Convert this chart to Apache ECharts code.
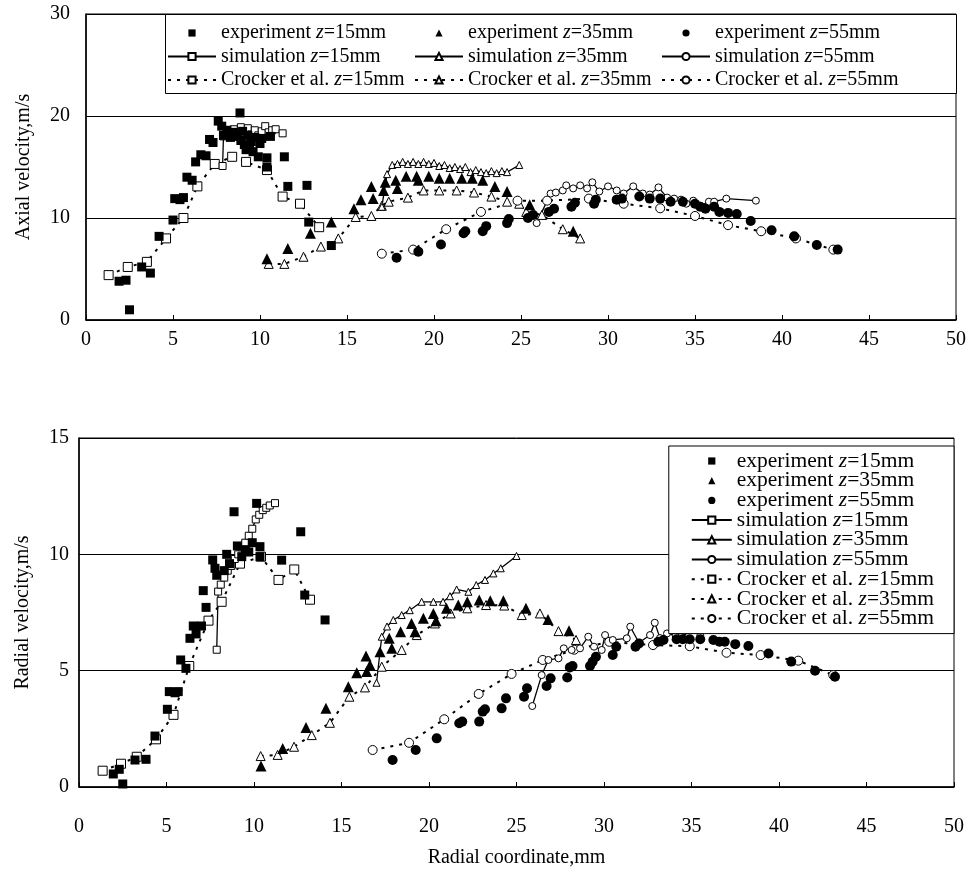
<!DOCTYPE html>
<html>
<head>
<meta charset="utf-8">
<script src="https://cdn.jsdelivr.net/npm/echarts@6/dist/echarts.min.js"></script>
<style>
html,body{margin:0;padding:0;background:#fff;}
#chart{width:976px;height:877px;}
</style>
</head>
<body>
<div id="chart"></div>
<script>
// Radial positions (mm) and velocities (m/s) at three axial stations.

// ---- Axial velocity ----
const axialExp15 = [[1.9,3.8],[2.3,3.9],[2.5,1.0],[3.2,5.2],[3.7,4.6],[4.2,8.2],[5.0,9.8],[5.1,11.9],[5.4,11.8],[5.6,12.0],[5.8,14.0],[6.1,13.7],[6.3,15.5],[6.6,16.2],[6.9,16.1],[7.1,17.7],[7.3,17.4],[7.6,19.5],[7.8,19.0],[7.9,18.1],[8.1,18.6],[8.3,17.9],[8.5,18.4],[8.7,18.0],[8.85,20.3],[8.9,17.6],[9.0,18.5],[9.1,17.2],[9.2,16.7],[9.3,18.1],[9.4,16.8],[9.5,17.5],[9.6,16.5],[9.7,17.9],[9.9,16.0],[10.0,17.3],[10.1,17.8],[10.4,15.9],[10.4,15.0],[10.6,18.0],[11.4,16.0],[11.6,13.1],[12.7,13.2],[12.8,9.6],[14.1,7.3]];
const axialSim15 = [[7.85,15.1],[7.9,18.0],[8.1,18.5],[8.3,18.1],[8.5,18.7],[8.7,18.2],[8.9,18.9],[9.1,18.3],[9.3,18.8],[9.5,18.2],[9.7,18.6],[9.9,18.1],[10.1,18.5],[10.3,19.0],[10.5,18.4],[10.7,18.6],[10.9,18.7],[11.3,18.3]];
const axialCro15 = [[1.3,4.4],[2.4,5.2],[3.5,5.7],[4.6,8.0],[5.6,10.0],[6.4,13.1],[7.4,15.3],[8.4,16.0],[9.2,15.5],[10.4,14.7],[11.3,12.1],[12.3,11.4],[13.4,9.1]];
const axialExp35 = [[10.4,6.0],[11.6,7.0],[12.9,8.5],[14.1,9.6],[15.4,10.9],[15.8,11.8],[16.4,13.1],[16.5,11.9],[17.1,12.7],[17.2,13.5],[17.8,13.7],[17.9,12.9],[18.4,14.1],[19.0,14.1],[19.1,13.7],[19.7,14.1],[20.3,13.9],[20.9,13.9],[21.6,13.9],[22.2,13.9],[22.8,13.7],[23.5,13.1],[24.2,12.6],[25.5,11.3],[28.0,8.7]];
const axialSim35 = [[17.0,11.1],[17.3,14.3],[17.6,15.2],[17.9,15.3],[18.2,15.5],[18.5,15.3],[18.8,15.5],[19.1,15.3],[19.4,15.5],[19.7,15.3],[20.0,15.4],[20.3,15.1],[20.6,15.2],[20.9,14.9],[21.2,15.0],[21.5,14.8],[21.8,15.0],[22.1,14.5],[22.4,14.7],[22.7,14.5],[23.0,14.4],[23.3,14.6],[23.6,14.4],[23.9,14.6],[24.2,14.5],[24.9,15.2]];
const axialCro35 = [[10.5,5.5],[11.4,5.5],[12.5,6.2],[13.5,7.2],[14.5,8.0],[15.5,10.1],[16.4,10.2],[17.0,11.2],[17.4,11.6],[18.5,12.0],[19.4,12.7],[20.3,12.7],[21.3,12.7],[22.3,12.5],[23.3,12.1],[24.2,11.6],[24.9,11.4],[25.3,10.6],[26.2,10.3],[27.4,8.9],[28.4,8.0]];
const axialExp55 = [[17.85,6.1],[19.1,6.7],[20.4,7.4],[21.7,8.5],[21.8,8.7],[22.8,8.7],[23.0,9.2],[24.2,9.5],[24.3,9.9],[25.4,10.0],[25.7,10.3],[26.6,10.6],[26.9,10.9],[27.9,11.1],[28.1,11.5],[29.2,11.4],[29.3,11.8],[30.5,11.8],[30.8,11.9],[31.8,12.1],[32.4,11.9],[33.0,11.9],[33.6,11.6],[34.3,11.6],[35.0,11.4],[35.3,11.1],[35.6,10.9],[36.1,11.1],[36.4,10.6],[36.9,10.5],[37.4,10.4],[38.2,9.7],[39.4,8.8],[40.7,8.2],[42.0,7.35],[43.2,6.9]];
const axialSim55 = [[25.9,9.5],[26.7,12.4],[27.0,12.5],[27.4,12.7],[27.6,13.2],[28.0,12.9],[28.4,13.2],[28.8,12.9],[29.1,13.5],[29.5,12.6],[30.0,13.1],[30.5,12.7],[30.9,12.4],[31.45,13.1],[32.0,12.4],[32.4,12.3],[32.9,13.0],[33.4,12.0],[33.8,11.9],[34.2,11.8],[34.5,11.4],[34.9,11.7],[35.3,11.2],[35.8,11.6],[36.1,11.6],[36.8,11.9],[38.5,11.7]];
const axialCro55 = [[17.0,6.5],[18.8,6.9],[20.7,8.9],[22.7,10.6],[24.8,11.7],[26.5,11.7],[28.9,11.9],[30.9,11.4],[33.0,10.95],[35.0,10.2],[36.9,9.3],[38.8,8.7],[40.8,8.0],[42.95,6.9]];

// ---- Radial velocity ----
const radialExp15 = [[1.96,0.56],[2.3,0.76],[2.5,0.13],[3.2,1.16],[3.83,1.19],[4.34,2.19],[5.05,3.34],[5.16,4.1],[5.49,4.05],[5.67,4.1],[5.81,5.46],[6.11,5.1],[6.34,6.39],[6.53,6.92],[6.69,6.58],[7.0,6.92],[7.1,8.44],[7.26,7.72],[7.64,9.76],[7.77,9.4],[7.87,9.1],[8.3,9.3],[8.44,10.0],[8.6,9.6],[8.86,11.83],[9.05,10.36],[9.3,9.9],[9.5,10.2],[9.7,10.1],[9.9,10.5],[10.15,12.19],[10.34,10.33],[10.34,9.9],[11.58,9.75],[12.67,10.97],[12.9,8.25],[14.06,7.18]];
const radialSim15 = [[7.87,5.9],[7.95,8.4],[8.1,8.7],[8.3,9.0],[8.5,9.3],[8.7,9.5],[8.9,9.8],[9.1,10.0],[9.3,10.3],[9.5,10.5],[9.7,10.8],[9.9,11.1],[10.1,11.5],[10.3,11.7],[10.5,11.9],[10.7,12.0],[10.9,12.1],[11.2,12.2]];
const radialCro15 = [[1.35,0.7],[2.4,1.0],[3.3,1.3],[4.4,2.05],[5.4,3.1],[6.3,5.2],[7.4,7.15],[8.15,7.96],[9.2,9.6],[10.4,9.9],[11.4,8.9],[12.3,9.35],[13.2,8.05]];
const radialExp35 = [[10.4,0.9],[11.64,1.66],[12.97,2.56],[14.11,3.38],[15.39,4.31],[15.87,4.91],[16.4,5.63],[16.44,4.96],[16.63,5.24],[17.2,5.81],[17.73,6.39],[17.87,5.96],[18.38,6.67],[19.0,7.03],[19.2,6.67],[19.68,7.25],[20.25,7.46],[20.4,7.15],[21.0,7.68],[21.67,7.82],[22.19,7.96],[22.87,8.04],[23.5,8.0],[24.25,8.0],[25.54,7.68],[26.8,7.2],[28.0,6.72]];
const radialSim35 = [[17.0,4.48],[17.3,6.46],[17.6,6.9],[17.96,7.18],[18.44,7.39],[18.9,7.6],[19.58,7.96],[20.25,7.96],[20.8,7.96],[21.2,8.2],[21.58,8.49],[22.25,8.39],[22.7,8.68],[23.2,8.9],[23.68,9.18],[24.1,9.4],[25.0,9.93]];
const radialCro35 = [[10.38,1.33],[11.35,1.38],[12.29,1.73],[13.3,2.23],[14.34,2.76],[15.45,3.88],[16.34,4.28],[17.3,5.17],[18.44,5.89],[19.3,6.53],[20.34,7.03],[21.24,7.46],[22.19,7.68],[23.26,7.82],[24.3,7.8],[25.3,7.39],[26.34,7.46],[27.4,6.7],[28.4,6.32]];
const radialExp55 = [[17.92,1.16],[19.24,1.59],[20.44,2.09],[21.73,2.74],[21.9,2.81],[22.87,2.81],[23.07,3.24],[23.2,3.34],[24.15,3.38],[24.4,3.81],[25.43,3.88],[25.6,4.24],[26.72,4.34],[26.95,4.67],[27.9,4.71],[28.05,5.14],[28.2,5.2],[29.2,5.2],[29.35,5.38],[29.54,5.6],[30.5,5.67],[30.7,6.03],[31.8,6.03],[32.0,6.17],[33.1,6.24],[33.4,6.32],[34.15,6.35],[34.5,6.35],[34.9,6.35],[35.5,6.35],[36.25,6.32],[36.6,6.24],[36.9,6.24],[37.5,6.14],[38.25,6.06],[39.4,5.74],[40.7,5.39],[42.06,5.0],[43.2,4.74]];
const radialSim55 = [[25.9,3.48],[26.44,4.81],[26.82,5.46],[27.4,5.53],[27.7,5.96],[28.15,5.89],[28.63,5.96],[29.1,6.46],[29.43,6.03],[29.87,5.89],[30.06,6.53],[30.5,6.32],[31.3,6.39],[31.5,6.89],[32.0,6.2],[32.63,6.53],[32.9,7.06],[33.2,6.4],[33.6,6.6],[34.1,6.5],[34.4,6.45],[35.07,6.75],[35.5,6.5],[35.87,6.89],[36.34,7.0],[36.97,7.32],[38.6,7.42]];
const radialCro55 = [[16.78,1.59],[18.86,1.9],[20.87,2.91],[22.84,4.0],[24.72,4.86],[26.5,5.46],[28.3,5.9],[30.3,6.24],[32.8,6.1],[34.9,6.05],[37.0,5.77],[38.95,5.67],[41.1,5.43],[43.1,4.81]];

// Axis ticks and labels
const xTicks = {min: 0, max: 50, step: 5};
const axialTicks = {min: 0, max: 30, step: 10};
const radialTicks = {min: 0, max: 15, step: 5};
const axialTitle = 'Axial velocity,m/s';
const radialTitle = 'Radial velocity,m/s';
const xTitle = 'Radial coordinate,mm';

const NAMES = {
  exp15: 'experiment z=15mm', exp35: 'experiment z=35mm', exp55: 'experiment z=55mm',
  sim15: 'simulation z=15mm', sim35: 'simulation z=35mm', sim55: 'simulation z=55mm',
  cro15: 'Crocker et al. z=15mm', cro35: 'Crocker et al. z=35mm', cro55: 'Crocker et al. z=55mm'
};
const SYMBOLS = {15: 'rect', 35: 'triangle', 55: 'circle'};

const FONT = '"Liberation Serif", "Times New Roman", serif';
const INK = '#000';

// Measured points: markers only (the connecting line is kept invisible so the
// legend key shows just the marker, centred in the key).
function expSeries(key, data, grid) {
  const z = key.slice(3);
  return {
    name: NAMES[key], type: 'line', xAxisIndex: grid, yAxisIndex: grid,
    symbol: SYMBOLS[z], symbolSize: z === '35' ? 11 : (z === '55' ? 10 : 9), showAllSymbol: true,
    lineStyle: {color: 'rgba(0,0,0,0)', width: 0},
    itemStyle: {color: INK, borderWidth: 0},
    z: 4, data
  };
}
function simSeries(key, data, grid) {
  const z = key.slice(3);
  return {
    name: NAMES[key], type: 'line', xAxisIndex: grid, yAxisIndex: grid,
    symbol: SYMBOLS[z], symbolSize: 7, showAllSymbol: true,
    lineStyle: {color: INK, width: 1.3},
    itemStyle: {color: '#fff', borderColor: INK, borderWidth: 1},
    z: 3, data
  };
}
function croSeries(key, data, grid) {
  const z = key.slice(3);
  return {
    name: NAMES[key], type: 'line', xAxisIndex: grid, yAxisIndex: grid,
    symbol: SYMBOLS[z], symbolSize: 9, showAllSymbol: true,
    lineStyle: {color: INK, width: 2, type: [3, 6]},
    itemStyle: {color: '#fff', borderColor: INK, borderWidth: 1},
    z: 3, data
  };
}

function xAxis(grid, labelMargin, name) {
  return {
    type: 'value', gridIndex: grid, min: xTicks.min, max: xTicks.max, interval: xTicks.step,
    axisLine: {show: true, onZero: false, lineStyle: {color: INK, width: 1.5}},
    axisTick: {show: true, inside: true, length: 5, lineStyle: {color: INK}},
    axisLabel: {color: INK, fontFamily: FONT, fontSize: 20, margin: labelMargin},
    splitLine: {show: false},
    name: name, nameLocation: 'middle', nameGap: 61,
    nameTextStyle: {color: INK, fontFamily: FONT, fontSize: 20}
  };
}
function yAxis(grid, ticks, name, gap, labelMargin) {
  return {
    type: 'value', gridIndex: grid, min: ticks.min, max: ticks.max, interval: ticks.step,
    axisLine: {show: true, lineStyle: {color: INK, width: 1.5}},
    axisTick: {show: true, inside: true, length: 5, lineStyle: {color: INK}},
    axisLabel: {color: INK, fontFamily: FONT, fontSize: 20, margin: labelMargin},
    splitLine: {show: true, lineStyle: {color: INK, width: 1}},
    name: name, nameLocation: 'middle', nameGap: gap,
    nameTextStyle: {color: INK, fontFamily: FONT, fontSize: 20}
  };
}

function richText(size, lh) {
  return {
    color: INK, fontFamily: FONT, fontSize: size, lineHeight: lh,
    rich: {i: {fontStyle: 'italic', fontFamily: FONT, fontSize: size, lineHeight: lh, color: INK}}
  };
}
function legendLabel(name) {
  return name.replace(' z=', ' {i|z}=');
}

function topLegend(left, keys) {
  return {
    orient: 'vertical', left: left, top: 23, padding: 0,
    itemWidth: 48, itemHeight: 9, itemGap: 3.5,
    selectedMode: false, z: 6,
    data: keys.map(k => NAMES[k]),
    formatter: legendLabel,
    textStyle: richText(20, 20)
  };
}

const option = {
  animation: false,
  backgroundColor: '#fff',
  grid: [
    {left: 86, right: 20, top: 14, height: 306, show: true, borderColor: INK, borderWidth: 1},
    {left: 79, right: 22, top: 438, height: 349, show: true, borderColor: INK, borderWidth: 1}
  ],
  xAxis: [xAxis(0, 10, ''), xAxis(1, 30, xTitle)],
  yAxis: [yAxis(0, axialTicks, axialTitle, 52, 16), yAxis(1, radialTicks, radialTitle, 46, 10)],
  graphic: [{
    type: 'rect', left: 165, top: 14, z: 5,
    shape: {width: 791, height: 79},
    style: {fill: '#fff', stroke: INK, lineWidth: 1}
  }],
  legend: [
    topLegend(167, ['exp15', 'sim15', 'cro15']),
    topLegend(414, ['exp35', 'sim35', 'cro35']),
    topLegend(661, ['exp55', 'sim55', 'cro55']),
    {
      orient: 'vertical', right: 22, top: 446,
      padding: [4, 20, 4, 22],
      itemWidth: 40, itemHeight: 9, itemGap: -2.3,
      selectedMode: false, z: 6,
      borderColor: INK, borderWidth: 1, backgroundColor: '#fff',
      data: ['exp15', 'exp35', 'exp55', 'sim15', 'sim35', 'sim55', 'cro15', 'cro35', 'cro55'].map(k => NAMES[k]),
      formatter: legendLabel,
      textStyle: richText(21.5, 20)
    }
  ],
  series: [
    croSeries('cro15', axialCro15, 0), croSeries('cro35', axialCro35, 0), croSeries('cro55', axialCro55, 0),
    simSeries('sim15', axialSim15, 0), simSeries('sim35', axialSim35, 0), simSeries('sim55', axialSim55, 0),
    expSeries('exp15', axialExp15, 0), expSeries('exp35', axialExp35, 0), expSeries('exp55', axialExp55, 0),
    croSeries('cro15', radialCro15, 1), croSeries('cro35', radialCro35, 1), croSeries('cro55', radialCro55, 1),
    simSeries('sim15', radialSim15, 1), simSeries('sim35', radialSim35, 1), simSeries('sim55', radialSim55, 1),
    expSeries('exp15', radialExp15, 1), expSeries('exp35', radialExp35, 1), expSeries('exp55', radialExp55, 1)
  ]
};

const chart = echarts.init(document.getElementById('chart'), null, {renderer: 'canvas'});
chart.setOption(option);
</script>
</body>
</html>
